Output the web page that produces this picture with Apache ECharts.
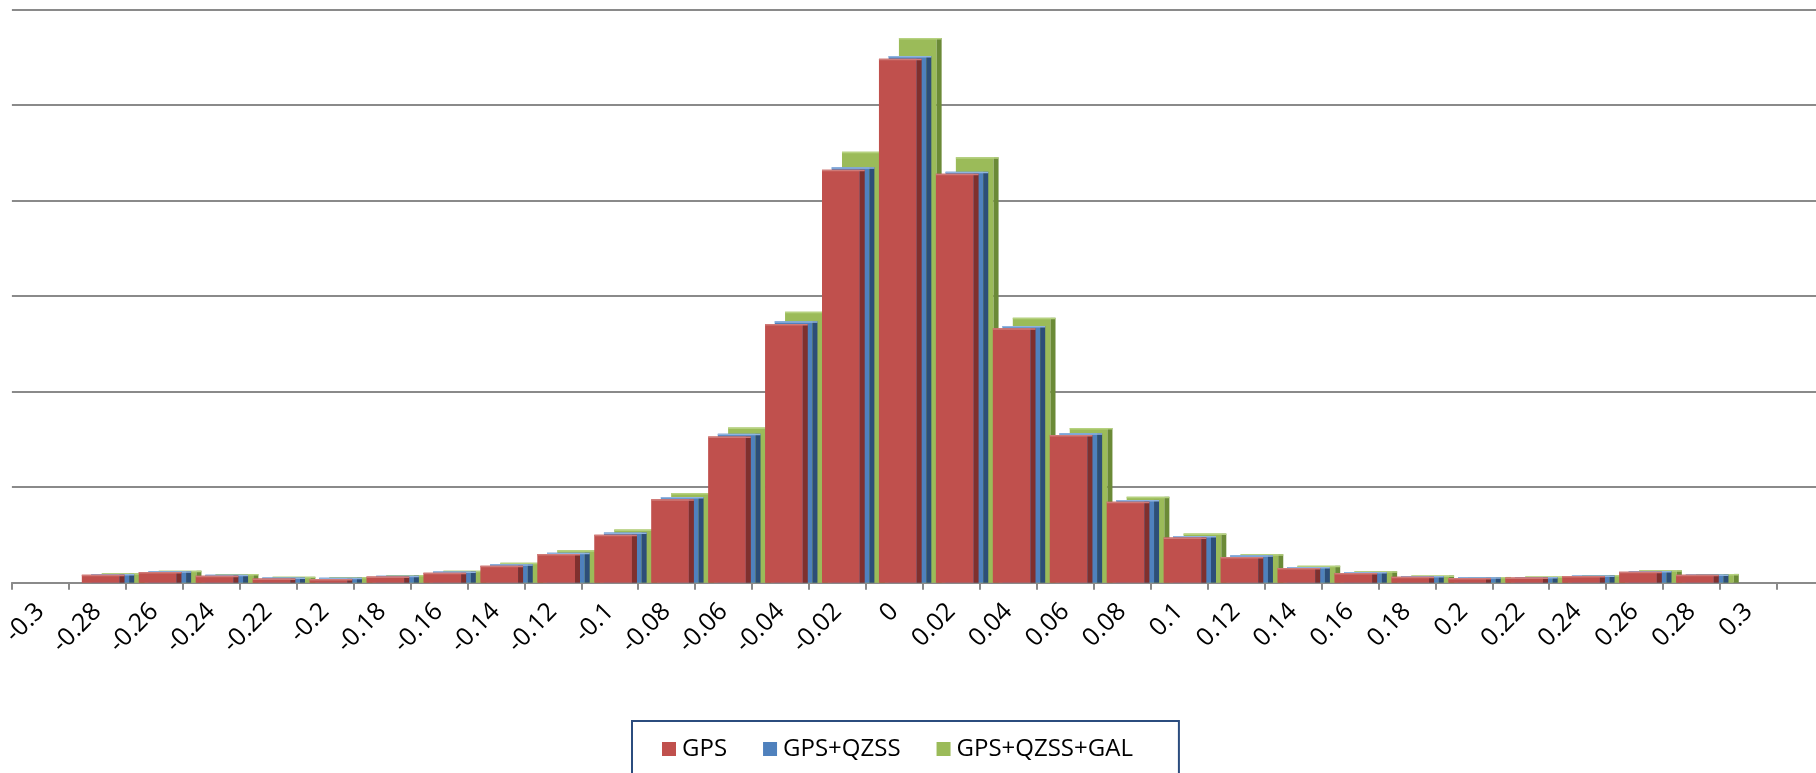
<!DOCTYPE html>
<html>
<head>
<meta charset="utf-8">
<title>Residual distribution</title>
<script src="https://cdn.jsdelivr.net/npm/echarts@6/dist/echarts.min.js"></script>
<style>
  html, body { margin: 0; padding: 0; background: #fff; }
  #chart { width: 1816px; height: 773px; }
</style>
</head>
<body>
<div id="chart"></div>
<script>
// Bin labels (m)
const binLabels = ['-0.3', '-0.28', '-0.26', '-0.24', '-0.22', '-0.2', '-0.18', '-0.16', '-0.14', '-0.12',
  '-0.1', '-0.08', '-0.06', '-0.04', '-0.02', '0', '0.02', '0.04', '0.06', '0.08',
  '0.1', '0.12', '0.14', '0.16', '0.18', '0.2', '0.22', '0.24', '0.26', '0.28', '0.3'];

// Frequency per bin (%)
const gps = [0, 0.42, 0.56, 0.37, 0.22, 0.20, 0.32, 0.52, 0.89, 1.50,
  2.51, 4.37, 7.65, 13.54, 21.61, 27.42, 21.40, 13.31, 7.73, 4.24,
  2.37, 1.34, 0.77, 0.51, 0.31, 0.25, 0.27, 0.35, 0.57, 0.41, 0];
const gpsQzss = [0, 0.46, 0.60, 0.41, 0.27, 0.26, 0.37, 0.59, 0.97, 1.57,
  2.63, 4.48, 7.80, 13.68, 21.74, 27.56, 21.51, 13.43, 7.82, 4.33,
  2.44, 1.43, 0.82, 0.56, 0.35, 0.28, 0.30, 0.38, 0.61, 0.43, 0];
const gpsQzssGal = [0, 0.49, 0.63, 0.45, 0.31, 0.30, 0.40, 0.63, 1.04, 1.70,
  2.78, 4.69, 8.12, 14.18, 22.55, 28.50, 22.26, 13.87, 8.10, 4.50,
  2.57, 1.49, 0.89, 0.60, 0.38, 0.30, 0.33, 0.40, 0.65, 0.46, 0];

// One trailing empty slot so the axis runs on past the last bin
const axisCategories = binLabels.concat(['']);

// Column geometry as fractions of one category width
const COL = { left: -0.272, face: 0.662, side: 0.088 };

function columnRenderer(shift, face, side, top) {
  return function (params, api) {
    const v = api.value(1);
    if (!(v > 0)) return null;
    const idx = api.value(0);
    const base = api.coord([idx, 0]);
    const tip = api.coord([idx, v]);
    const w = api.size([1, 0])[0];
    const x = base[0] + (COL.left + shift) * w;
    const fw = COL.face * w;
    const sw = COL.side * w;
    const h = base[1] - tip[1];
    return {
      type: 'group',
      children: [
        { type: 'rect', shape: { x: x, y: tip[1], width: fw, height: h }, style: { fill: face } },
        { type: 'rect', shape: { x: x + fw, y: tip[1], width: sw, height: h }, style: { fill: side } },
        { type: 'rect', shape: { x: x, y: tip[1], width: fw + sw, height: Math.min(1.5, h) }, style: { fill: top } }
      ]
    };
  };
}

function toPairs(arr) {
  return arr.map(function (v, i) { return [i, v]; });
}

const chart = echarts.init(document.getElementById('chart'), null, { renderer: 'canvas' });

chart.setOption({
  animation: false,
  backgroundColor: '#ffffff',
  textStyle: { fontFamily: 'Open Sans' },
  grid: {
    left: 11.9, width: 1822, top: 9.4, height: 573.3,
    containLabel: false,
    outerBoundsMode: 'none'
  },
  xAxis: {
    type: 'category',
    data: axisCategories,
    boundaryGap: true,
    axisLine: { show: true, lineStyle: { color: '#8a8a8a', width: 2 } },
    axisTick: { show: true, length: 7, lineStyle: { color: '#8a8a8a', width: 2 } },
    axisLabel: {
      interval: 0,
      rotate: 45,
      margin: 25,
      fontSize: 25,
      fontFamily: 'Open Sans',
      color: '#000000'
    },
    splitLine: { show: false }
  },
  yAxis: {
    type: 'value',
    min: 0,
    max: 30,
    interval: 5,
    axisLine: { show: false },
    axisTick: { show: false },
    axisLabel: { show: false },
    splitLine: { show: true, lineStyle: { color: '#8a8a8a', width: 2 } }
  },
  legend: {
    show: true,
    left: 632,
    top: 721,
    orient: 'horizontal',
    icon: 'rect',
    itemWidth: 14,
    itemHeight: 14,
    itemGap: 36,
    padding: [16, 46, 40, 30],
    borderColor: '#2b4c7e',
    borderWidth: 2,
    textStyle: { fontSize: 24, fontFamily: 'Open Sans', color: '#000000', padding: [0, 0, 0, 1] },
    data: ['GPS', 'GPS+QZSS', 'GPS+QZSS+GAL']
  },
  series: [
    {
      name: 'GPS',
      type: 'custom',
      z: 4,
      itemStyle: { color: '#C0504D' },
      encode: { x: 0, y: 1 },
      renderItem: columnRenderer(0, '#C0504D', '#7f302e', '#d07a77'),
      data: toPairs(gps)
    },
    {
      name: 'GPS+QZSS',
      type: 'custom',
      z: 3,
      itemStyle: { color: '#4F81BD' },
      encode: { x: 0, y: 1 },
      renderItem: columnRenderer(0.17, '#4F81BD', '#2d4e78', '#8fb3e0'),
      data: toPairs(gpsQzss)
    },
    {
      name: 'GPS+QZSS+GAL',
      type: 'custom',
      z: 2,
      itemStyle: { color: '#9BBB59' },
      encode: { x: 0, y: 1 },
      renderItem: columnRenderer(0.351, '#9BBB59', '#6b8a37', '#b5d17f'),
      data: toPairs(gpsQzssGal)
    }
  ]
});
</script>
</body>
</html>
